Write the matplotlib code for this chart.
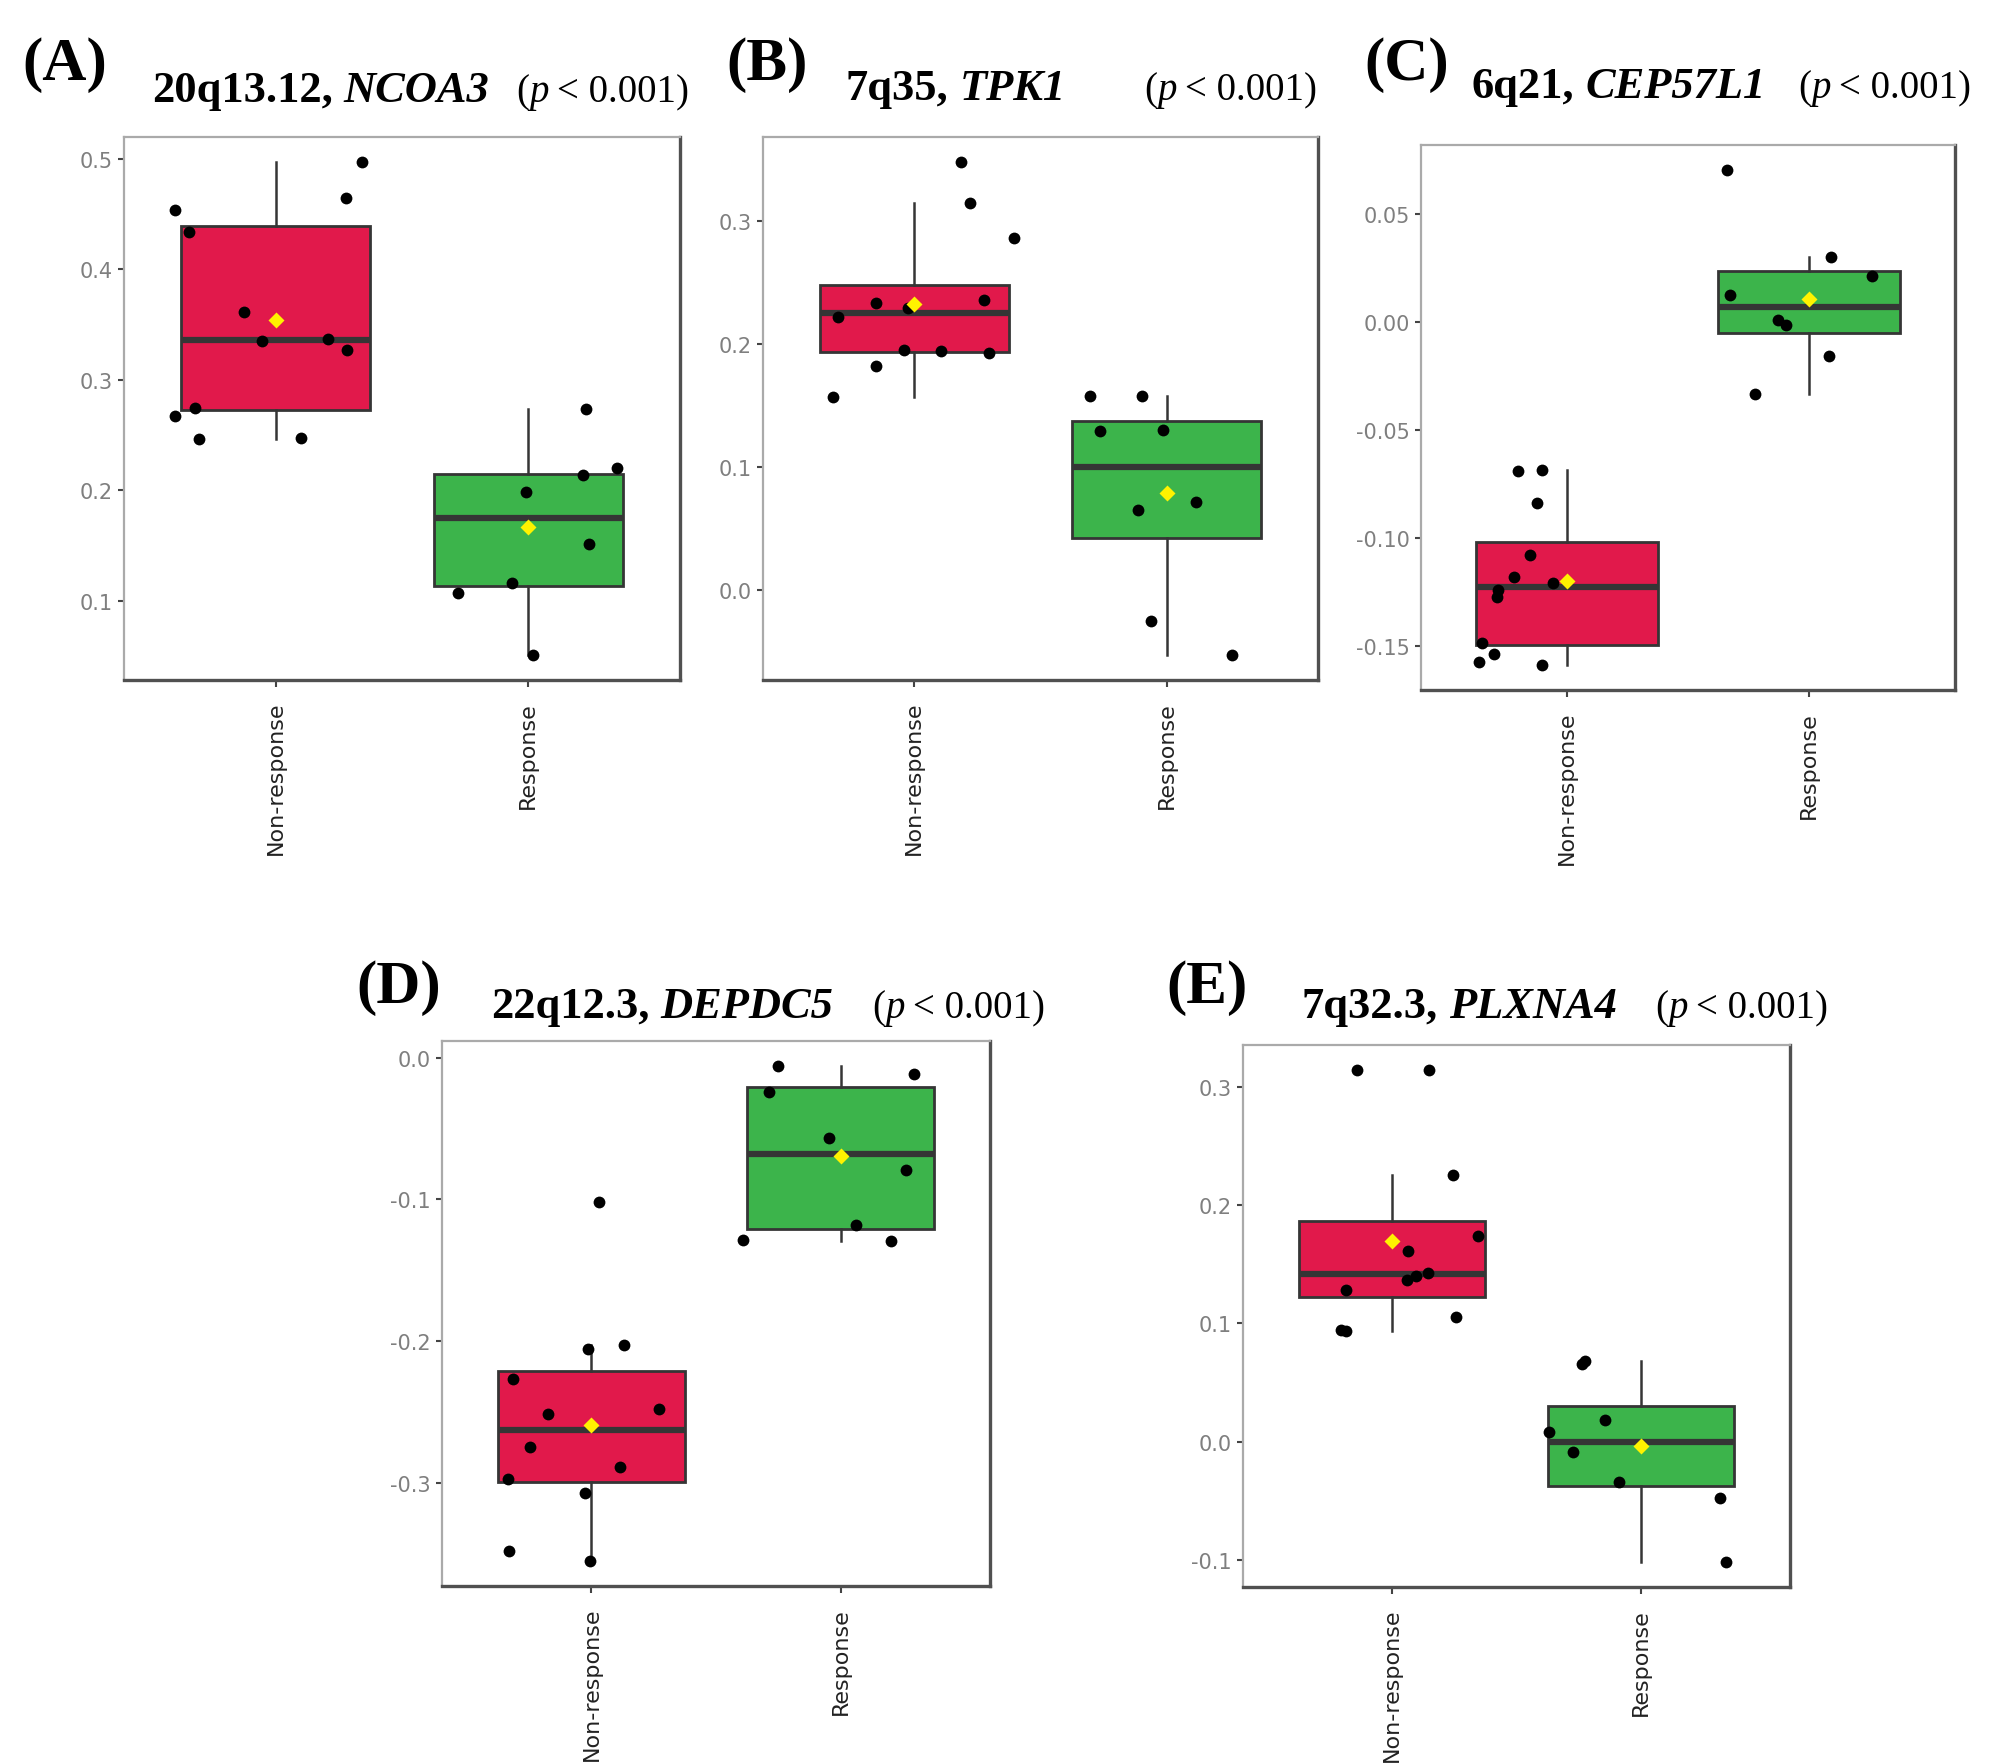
import numpy as np
import matplotlib
matplotlib.use("Agg")
import matplotlib.pyplot as plt

plt.rcParams['axes.unicode_minus'] = False

# groups and panel texts
groups = ['Non-response', 'Response']
tags = ['(A)', '(B)', '(C)', '(D)', '(E)']
loci = ['20q13.12,', '7q35,', '6q21,', '22q12.3,', '7q32.3,']
genes = ['NCOA3', 'TPK1', 'CEP57L1', 'DEPDC5', 'PLXNA4']

# (A) 20q13.12 NCOA3
a_nr = [0.4534, 0.434, 0.361, 0.3353, 0.337, 0.327, 0.274, 0.2667, 0.2466, 0.2474, 0.4647, 0.4972]
a_nr_jit = [-0.398, -0.342, -0.127, -0.055, 0.206, 0.282, -0.320, -0.398, -0.303, 0.102, 0.280, 0.340]
a_r = [0.2739, 0.2197, 0.2133, 0.1988, 0.151, 0.1157, 0.1072, 0.0506]
a_r_jit = [0.229, 0.35, 0.217, -0.011, 0.238, -0.063, -0.28, 0.019]

# (B) 7q35 TPK1
b_nr = [0.3479, 0.314, 0.286, 0.2334, 0.2215, 0.2291, 0.2355, 0.1952, 0.1938, 0.1927, 0.1822, 0.1567]
b_nr_jit = [0.185, 0.22, 0.396, -0.154, -0.301, -0.025, 0.276, -0.041, 0.104, 0.296, -0.154, -0.321]
b_r = [0.1578, 0.1578, 0.129, 0.1304, 0.0649, 0.0713, -0.0252, -0.0529]
b_r_jit = [-0.305, -0.099, -0.263, -0.013, -0.114, 0.116, -0.061, 0.26]

# (C) 6q21 CEP57L1
c_nr = [-0.0692, -0.0688, -0.0839, -0.1079, -0.1182, -0.1244, -0.1277, -0.1211, -0.1486, -0.1539, -0.1576, -0.1591]
c_nr_jit = [-0.201, -0.1, -0.121, -0.152, -0.215, -0.284, -0.287, -0.056, -0.35, -0.299, -0.363, -0.103]
c_r = [0.0705, 0.03, 0.0215, 0.0124, 0.001, -0.0014, -0.0157, -0.0333]
c_r_jit = [-0.338, 0.089, 0.256, -0.328, -0.131, -0.095, 0.081, -0.224]

# (D) 22q12.3 DEPDC5
d_nr = [-0.1020, -0.2054, -0.2028, -0.2268, -0.2516, -0.2478, -0.2749, -0.2888, -0.2974, -0.3075, -0.3481, -0.3556]
d_nr_jit = [0.032, -0.0125, 0.132, -0.316, -0.175, 0.27, -0.245, 0.116, -0.334, -0.025, -0.33, -0.005]
d_r = [-0.0056, -0.0116, -0.024, -0.0563, -0.0789, -0.1183, -0.1284, -0.1292]
d_r_jit = [-0.25, 0.293, -0.289, -0.046, 0.263, 0.061, -0.393, 0.204]

# (E) 7q32.3 PLXNA4
e_nr = [0.3148, 0.3148, 0.2258, 0.1742, 0.1616, 0.1364, 0.14, 0.1431, 0.1279, 0.0942, 0.0937, 0.1058]
e_nr_jit = [-0.142, 0.147, 0.244, 0.344, 0.065, 0.061, 0.097, 0.143, -0.186, -0.206, -0.185, 0.256]
e_r = [0.0658, 0.0681, 0.0187, 0.0083, -0.0088, -0.0344, -0.0479, -0.1022]
e_r_jit = [-0.238, -0.226, -0.143, -0.369, -0.272, -0.086, 0.317, 0.342]

# y ticks per panel
a_ticks = [0.1, 0.2, 0.3, 0.4, 0.5]
b_ticks = [0.0, 0.1, 0.2, 0.3]
c_ticks = [-0.15, -0.10, -0.05, 0.00, 0.05]
d_ticks = [-0.3, -0.2, -0.1, 0.0]
e_ticks = [-0.1, 0.0, 0.1, 0.2, 0.3]

panels = [
    (a_nr, a_nr_jit, a_r, a_r_jit, a_ticks, '%.1f'),
    (b_nr, b_nr_jit, b_r, b_r_jit, b_ticks, '%.1f'),
    (c_nr, c_nr_jit, c_r, c_r_jit, c_ticks, '%.2f'),
    (d_nr, d_nr_jit, d_r, d_r_jit, d_ticks, '%.1f'),
    (e_nr, e_nr_jit, e_r, e_r_jit, e_ticks, '%.1f'),
]

box_colors = ['#E1194B', '#3CB44B']

W, H = 2008, 1765
fig = plt.figure(figsize=(W / 100, H / 100), dpi=100)
renderer = fig.canvas.get_renderer()

# layout in pixels: axes box (left, top, right, bottom)
ax_px = [(124, 138, 680, 681), (763, 138, 1318, 681), (1421, 146, 1955, 691),
         (442, 1042, 990, 1587), (1243, 1046, 1790, 1588)]
# tag (x, baseline), title (x, baseline), x where "(p < 0.001)" starts
tag_px = [(22, 80), (726, 80), (1364, 80), (356, 1003), (1166, 1003)]
title_px = [(152, 102), (846, 100), (1472, 98), (491, 1018), (1302, 1018)]
p_x = [516, 1144, 1798, 872, 1655]

serif = 'Liberation Serif'


def put_chain(x, y, pieces):
    """draw text pieces one after another on the same baseline (pixels)"""
    for s, gap, kw in pieces:
        x += gap
        t = fig.text(x / W, 1 - y / H, s, ha='left', va='baseline', family=serif, **kw)
        x += t.get_window_extent(renderer).width
    return x


for i, (nr, nrj, rr, rj, ticks, fmt) in enumerate(panels):
    l, t, r, b = ax_px[i]
    ax = fig.add_axes([l / W, 1 - b / H, (r - l) / W, (b - t) / H])

    bp = ax.boxplot([nr, rr], positions=[1, 2], widths=0.75, patch_artist=True,
                    showfliers=False, showcaps=False, whis=1.5,
                    boxprops=dict(edgecolor='#353535', linewidth=2),
                    medianprops=dict(color='#353535', linewidth=4.5),
                    whiskerprops=dict(color='#353535', linewidth=1.8))
    for patch, c in zip(bp['boxes'], box_colors):
        patch.set_facecolor(c)

    for pos, vals, jit in [(1, nr, nrj), (2, rr, rj)]:
        ax.plot(pos + np.array(jit), vals, 'o', color='black', ms=8.5, mec='none', zorder=3)
        ax.plot([pos], [np.mean(vals)], 'D', color='#FFF200', ms=8.5, mec='none', zorder=4)

    ax.set_xlim(0.4, 2.6)
    ax.margins(y=0.05)
    ax.set_yticks(ticks)
    ax.set_yticklabels([fmt % v for v in ticks])
    ax.set_xticks([1, 2])
    ax.set_xticklabels(groups, rotation=90, ha='center', va='top')

    ax.tick_params(axis='y', labelsize=15, labelcolor='#7f7f7f', color='#444444',
                   length=4, width=1.5, pad=4)
    ax.tick_params(axis='x', labelsize=16, labelcolor='#222222', color='#444444',
                   length=5, width=1.5, pad=10)
    for side in ['left', 'top']:
        ax.spines[side].set_color('#aaaaaa')
        ax.spines[side].set_linewidth(1.6)
    for side in ['right', 'bottom']:
        ax.spines[side].set_color('#505050')
        ax.spines[side].set_linewidth(2.4)

    # panel tag
    tx, ty = tag_px[i]
    fig.text(tx / W, 1 - ty / H, tags[i], ha='left', va='baseline', family=serif,
             fontsize=44, fontweight='bold')

    # title: locus (bold) + gene (bold italic) + p value
    x0, y0 = title_px[i]
    put_chain(x0, y0, [(loci[i], 0, dict(fontsize=32, fontweight='bold')),
                       (genes[i], 11, dict(fontsize=32, fontweight='bold', style='italic'))])
    put_chain(p_x[i], y0, [('(', 0, dict(fontsize=28)),
                           ('p', 0, dict(fontsize=28, style='italic')),
                           ('< 0.001)', 9, dict(fontsize=28))])

fig.savefig('out.png', dpi=100, facecolor='white')
